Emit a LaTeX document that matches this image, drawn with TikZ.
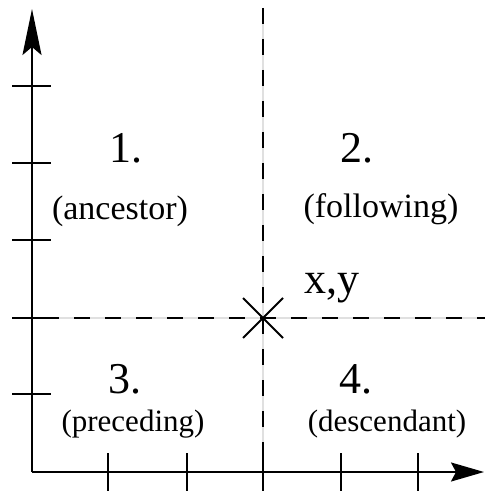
\documentclass[tikz,border=0pt]{standalone}
\usepackage{fontspec}
\setmainfont{Liberation Serif}
\usepackage{tikz}
\usetikzlibrary{positioning,calc,arrows.meta,shapes.misc}

\begin{document}
\begin{tikzpicture}[x=0.5pt,y=-0.5pt,line width=1pt,
 axis/.style={draw=black,line width=1pt},
 guide/.style={preaction={draw=black!12,solid},dash pattern=on 8pt off 7.5pt},
 num/.style={anchor=base,font=\fontsize{22}{26}\selectfont},
 role/.style={anchor=base,font=\fontsize{17}{20}\selectfont},
 rolelow/.style={anchor=base,font=\fontsize{15.5}{18}\selectfont}]
\useasboundingbox (0,0) rectangle (485,491);
\coordinate (O) at (32,472);
\coordinate (ytip) at (32,9);
\coordinate (xtip) at (484,472);
% dashed guides through x,y
\coordinate (vtop) at (263,8); \coordinate (vbot) at (263,491);
\coordinate (hleft) at (12,318); \coordinate (hright) at (485,318);
\draw[guide] (vtop)--(vbot);
\draw[guide] (hleft)--(hright);
% axes and ticks
\draw[axis,-{Stealth[length=23pt,width=9.5pt,inset=4pt]}] (O)--(ytip);
\draw[axis,-{Stealth[length=16.5pt,width=9.5pt,inset=2.5pt]}] (O)--(xtip);
\foreach \y in {86,163,240,318,394} {\draw (12,\y)--(51,\y);}
\foreach \x in {108,187,263,341,418} {\draw (\x,453)--(\x,491);}
% the point and its regions
\node[cross out,draw,line width=1pt,minimum size=19pt,inner sep=0pt] (xy) at (263,318) {};
\node[anchor=base west,inner sep=0pt,font=\fontsize{22}{26}\selectfont] (xylab) at (303,293) {x,y};
\node[num] (n1) at (126,163) {1.};
\node[role] (r1) at (120,220) {(ancestor)};
\node[num] (n2) at (357,163) {2.};
\node[role] (r2) at (381,218) {(following)};
\node[num] (n3) at (125,393) {3.};
\node[rolelow] (r3) at (133,431) {(preceding)};
\node[num] (n4) at (356,393) {4.};
\node[rolelow] (r4) at (387,431) {(descendant)};
\end{tikzpicture}
\end{document}
